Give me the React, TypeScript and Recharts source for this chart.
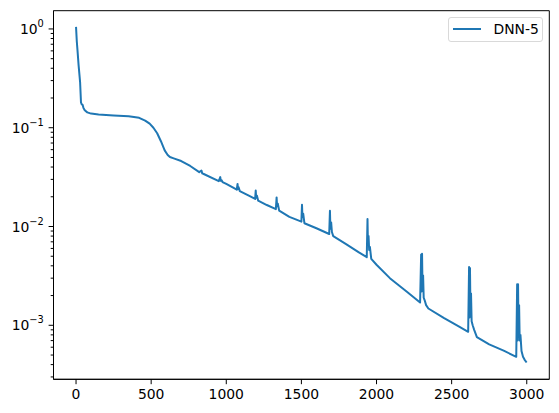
import { Line, LineChart, ReferenceArea, XAxis, YAxis } from "recharts";

// training loss of DNN-5 (log scale)
const epochs = [
  0, 5, 10, 17, 27, 33, 38, 44, 50, 58, 75, 100, 150, 250, 350, 420, 460, 490,
  515, 540, 565, 590, 610, 625, 650, 700, 760, 820, 835, 840, 850, 950, 960,
  963, 968, 975, 1000, 1070, 1075, 1078, 1082, 1090, 1150, 1192, 1196, 1199,
  1204, 1212, 1270, 1330, 1335, 1338, 1343, 1352, 1420, 1500, 1504, 1507, 1512,
  1520, 1600, 1685, 1690, 1693, 1698, 1703, 1712, 1800, 1880, 1935, 1940, 1943,
  1947, 1951, 1956, 1965, 2000, 2089, 2200, 2290, 2297, 2300, 2303, 2306, 2310,
  2314, 2320, 2330, 2345, 2450, 2550, 2610, 2616, 2619, 2622, 2625, 2629, 2633,
  2640, 2650, 2668, 2750, 2850, 2930, 2936, 2939, 2942, 2945, 2949, 2953, 2958,
  2965, 2975, 2985, 2999,
];

const losses = [
  1.05, 0.75, 0.6, 0.43, 0.29, 0.18, 0.172, 0.17, 0.158, 0.15, 0.143, 0.139,
  0.136, 0.133, 0.131, 0.126, 0.118, 0.11, 0.1, 0.088, 0.073, 0.059, 0.053,
  0.0505, 0.049, 0.046, 0.041, 0.0355, 0.0369, 0.0345, 0.034, 0.0288, 0.0316,
  0.029, 0.0295, 0.0282, 0.027, 0.0236, 0.027, 0.024, 0.025, 0.0228, 0.0205,
  0.019, 0.0231, 0.0195, 0.0205, 0.0183, 0.0165, 0.015, 0.0197, 0.016, 0.017,
  0.0145, 0.0125, 0.0112, 0.0166, 0.0125, 0.0135, 0.0108, 0.0096, 0.0084,
  0.0144, 0.0095, 0.011, 0.0088, 0.008, 0.0066, 0.0055, 0.0049, 0.0119, 0.0065,
  0.008, 0.0058, 0.0062, 0.0047, 0.0041, 0.003, 0.0022, 0.0017, 0.0052, 0.0022,
  0.0053, 0.0025, 0.0032, 0.0019, 0.0018, 0.0016, 0.00148, 0.00118, 0.00097,
  0.00086, 0.0039, 0.0012, 0.0038, 0.0015, 0.0021, 0.0011, 0.001, 0.0009,
  0.00076, 0.00064, 0.00055, 0.00048, 0.0026, 0.0007, 0.0026, 0.0009, 0.0016,
  0.0007, 0.0008, 0.00055, 0.00048, 0.00045, 0.00042,
];

const xTicks = [0, 500, 1000, 1500, 2000, 2500, 3000];
const majorExponents = [0, -1, -2, -3];
const minorMultipliers = [2, 3, 4, 5, 6, 7, 8, 9];

const xDomain = [-150, 3150];
const yDomain = [2.84e-4, 1.53];

const rows = epochs.map((epoch, i) => ({ epoch, loss: losses[i] }));

const yTicks = [
  ...majorExponents.map((e) => Math.pow(10, e)),
  ...majorExponents.flatMap((e) =>
    minorMultipliers.map((m) => m * Math.pow(10, e - 1))
  ),
]
  .filter((v) => v >= yDomain[0] && v <= yDomain[1])
  .sort((a, b) => a - b);

const FONT = "DejaVu Sans, sans-serif";
const BLUE = "#1f77b4";

function LogTick(props: any) {
  const { x, y, payload } = props;
  const v = payload.value;
  const exp = Math.round(Math.log10(v));
  const isMajor = Math.abs(v - Math.pow(10, exp)) < 1e-12;
  const len = isMajor ? 4.9 : 2.8;
  return (
    <g>
      <line x1={x} x2={x - len} y1={y} y2={y} stroke="#000" strokeWidth={1} />
      {isMajor && (
        <text
          x={x - 9.7}
          y={y + 5}
          textAnchor="end"
          fontFamily={FONT}
          fontSize={13.9}
          fill="#000"
        >
          <tspan>10</tspan>
          <tspan dy={-7} fontSize={9.8}>
            {exp === 0 ? "0" : "\u2212" + Math.abs(exp)}
          </tspan>
        </text>
      )}
    </g>
  );
}

export default function App() {
  return (
    <div style={{ position: "absolute", left: 0, top: 0, width: 559, height: 413 }}>
      <LineChart
        width={559}
        height={413}
        data={rows}
        margin={{ top: 10.7, right: 9.7, left: 0, bottom: 0 }}
      >
        <XAxis
          dataKey="epoch"
          type="number"
          domain={xDomain}
          ticks={xTicks}
          allowDataOverflow
          interval={0}
          height={33.7}
          tickSize={4.9}
          tickMargin={4.9}
          stroke="#000"
          tick={{ fill: "#000", fontSize: 13.9, fontFamily: FONT }}
        />
        <YAxis
          dataKey="loss"
          type="number"
          scale="log"
          domain={yDomain}
          ticks={yTicks}
          allowDataOverflow
          interval={0}
          width={53.5}
          tickLine={false}
          tickSize={0}
          tickMargin={0}
          stroke="#000"
          tick={<LogTick />}
        />
        <ReferenceArea
          x1={xDomain[0]}
          x2={xDomain[1]}
          y1={yDomain[0]}
          y2={yDomain[1]}
          fill="none"
          fillOpacity={0}
          stroke="#000"
          strokeWidth={1}
          ifOverflow="visible"
        />
        <Line
          type="linear"
          dataKey="loss"
          stroke={BLUE}
          strokeWidth={2}
          strokeLinejoin="round"
          dot={false}
          isAnimationActive={false}
        />
      </LineChart>
      <div
        style={{
          position: "absolute",
          left: 447.5,
          top: 17,
          width: 95,
          height: 25,
          boxSizing: "border-box",
          border: "1px solid #d9d9d9",
          borderRadius: 3,
          background: "rgba(255,255,255,0.8)",
          fontFamily: FONT,
          fontSize: 13.9,
        }}
      >
        <div
          style={{
            position: "absolute",
            left: 4.5,
            top: 10,
            width: 28,
            height: 2,
            background: BLUE,
          }}
        />
        <span style={{ position: "absolute", left: 45, top: 3, lineHeight: "16px" }}>
          DNN-5
        </span>
      </div>
    </div>
  );
}
